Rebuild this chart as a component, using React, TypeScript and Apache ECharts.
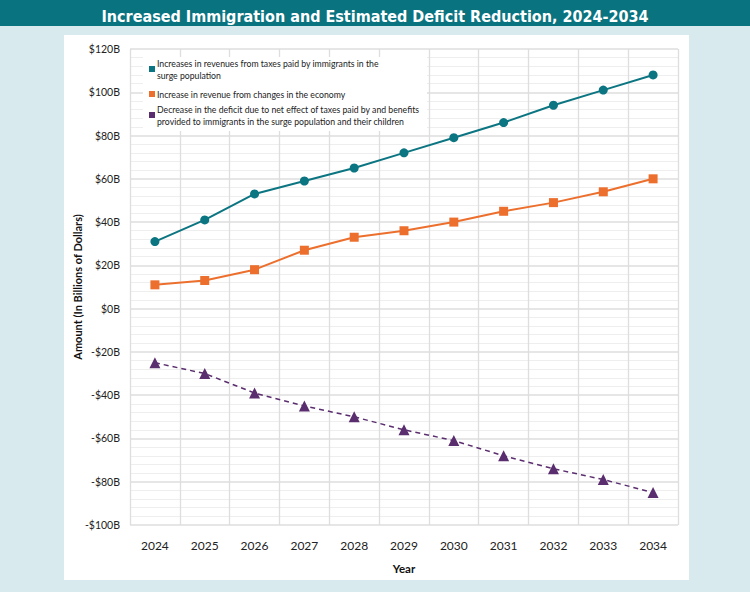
import React, { FC, useEffect, useRef } from "react";
import * as echarts from "echarts";

const years = ["2024", "2025", "2026", "2027", "2028", "2029", "2030", "2031", "2032", "2033", "2034"];
const taxRevenue = [31, 41, 53, 59, 65, 72, 79, 86, 94, 101, 108];
const economyRevenue = [11, 13, 18, 27, 33, 36, 40, 45, 49, 54, 60];
const deficitChange = [-25, -30, -39, -45, -50, -56, -61, -68, -74, -79, -85];

const names = [
  "Increases in revenues from taxes paid by immigrants in the\nsurge population",
  "Increase in revenue from changes in the economy",
  "Decrease in the deficit due to net effect of taxes paid by and benefits\nprovided to immigrants in the surge population and their children",
];

const TEAL = "#0c7582";
const ORANGE = "#ec6f2d";
const PURPLE = "#5a2d6e";
const FONT = "Lato, 'Noto Sans', sans-serif";

// one legend per series so the icon sits on the first line of wrapped names
const legendFor = (name: string, top: number, twoLines: boolean) => ({
  data: [name],
  left: 149,
  top,
  icon: "rect",
  itemWidth: 6,
  itemHeight: 6,
  itemGap: 0,
  padding: 0,
  textStyle: {
    fontFamily: FONT,
    fontSize: 8.7,
    color: "#222",
    lineHeight: 12,
    padding: twoLines ? [12, 0, 0, -3] : [0, 0, 0, -3],
  },
});

const App: FC = () => {
  const ref = useRef<HTMLDivElement>(null);
  useEffect(() => {
    document.body.style.margin = "0";
    const chart = echarts.init(ref.current, null, { renderer: "svg" });
    chart.setOption({
      animation: false,
      backgroundColor: "#d8eaed",
      title: {
        text: "Increased Immigration and Estimated Deficit Reduction, 2024-2034",
        left: "center",
        top: 3,
        textStyle: {
          color: "#fff",
          fontFamily: "'DejaVu Sans Condensed', sans-serif",
          fontWeight: "bold",
          fontSize: 16,
        },
      },
      graphic: [
        { type: "rect", left: 0, top: 0, shape: { width: 750, height: 26 }, style: { fill: "#0a7380" }, z: -10 },
        { type: "rect", left: 64, top: 35, shape: { width: 625, height: 545 }, style: { fill: "#fff" }, z: -10 },
        { type: "rect", left: 143, top: 57, shape: { width: 284, height: 74 }, style: { fill: "#fff" }, z: 3 },
      ],
      legend: [legendFor(names[0], 51, true), legendFor(names[1], 88, false), legendFor(names[2], 97, true)],
      grid: { left: 130, right: 72, top: 49, bottom: 67 },
      xAxis: {
        type: "category",
        data: years,
        boundaryGap: true,
        name: "Year",
        nameLocation: "middle",
        nameGap: 37,
        nameMoveOverlap: false,
        nameTextStyle: { fontFamily: FONT, fontWeight: "bold", fontSize: 11.5, color: "#111" },
        axisLine: { show: false },
        axisTick: { show: false },
        axisLabel: { margin: 14, fontFamily: FONT, fontSize: 12, color: "#222" },
        splitLine: { show: true, lineStyle: { color: "#dedede", width: 1.3 } },
      },
      yAxis: {
        type: "value",
        min: -100,
        max: 120,
        interval: 20,
        name: "Amount (In Billions of Dollars)",
        nameLocation: "middle",
        nameGap: 47,
        nameMoveOverlap: false,
        nameTextStyle: { fontFamily: FONT, fontWeight: "bold", fontSize: 11, color: "#111" },
        axisLine: { show: false },
        axisTick: { show: false },
        axisLabel: {
          margin: 10,
          fontFamily: FONT,
          fontSize: 10.5,
          color: "#222",
          formatter: (v: number) => (v < 0 ? `-$${-v}B` : `$${v}B`),
        },
        splitLine: { lineStyle: { color: "#dedede", width: 1.5 } },
        minorTick: { show: false, splitNumber: 5 },
        minorSplitLine: { show: true, lineStyle: { color: "#eeeeee", width: 1 } },
      },
      series: [
        {
          name: names[0],
          type: "line",
          data: taxRevenue,
          symbol: "circle",
          symbolSize: 9,
          color: TEAL,
          lineStyle: { width: 2, color: TEAL },
          itemStyle: { color: TEAL },
        },
        {
          name: names[1],
          type: "line",
          data: economyRevenue,
          symbol: "rect",
          symbolSize: 9,
          color: ORANGE,
          lineStyle: { width: 2, color: ORANGE },
          itemStyle: { color: ORANGE },
        },
        {
          name: names[2],
          type: "line",
          data: deficitChange,
          symbol: "triangle",
          symbolSize: 11,
          color: PURPLE,
          lineStyle: { width: 1.5, color: PURPLE, type: [5, 4] },
          itemStyle: { color: PURPLE },
        },
      ],
    });
    return () => {
      chart.dispose();
    };
  }, []);

  return <div ref={ref} style={{ width: 750, height: 592 }}></div>;
};

export default App;
